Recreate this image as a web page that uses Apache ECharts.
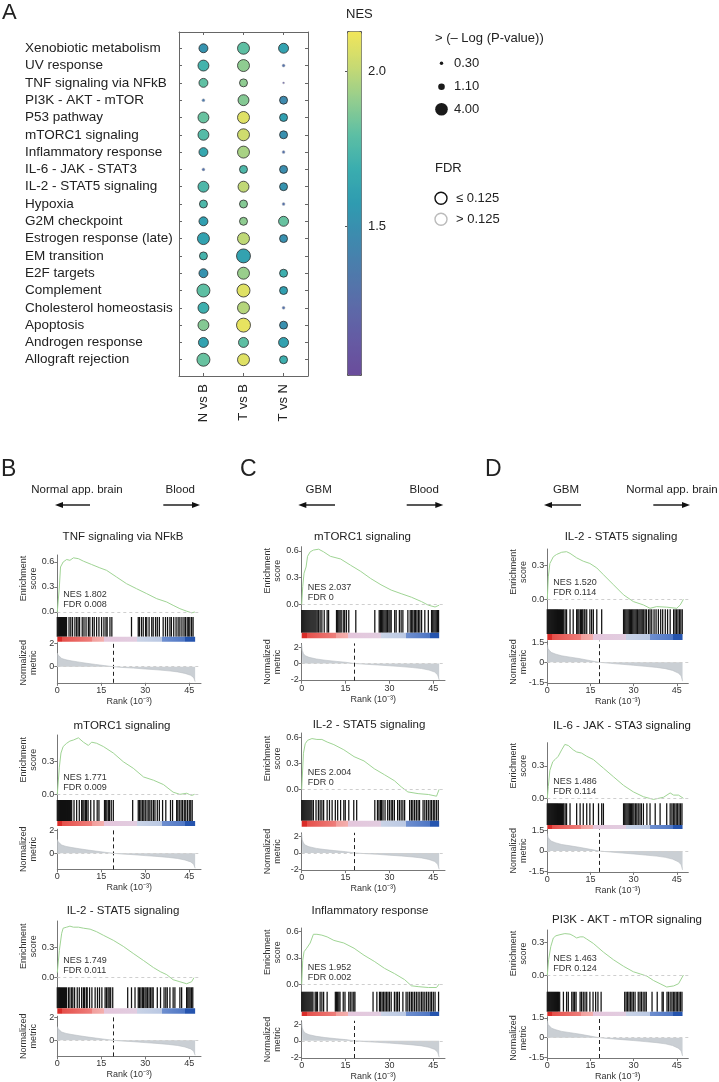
<!DOCTYPE html>
<html><head><meta charset="utf-8">
<script src="https://cdn.jsdelivr.net/npm/echarts@6/dist/echarts.min.js"></script>
<style>html,body{margin:0;padding:0;background:#fff}#c{width:719px;height:1082px}</style>
</head><body><div id="c"></div><script>
// ---------------- Panel A data ----------------
const pathways = ['Xenobiotic metabolism','UV response','TNF signaling via NFkB','PI3K - AKT - mTOR','P53 pathway','mTORC1 signaling','Inflammatory response','IL-6 - JAK - STAT3','IL-2 - STAT5 signaling','Hypoxia','G2M checkpoint','Estrogen response (late)','EM transition','E2F targets','Complement','Cholesterol homeostasis','Apoptosis','Androgen response','Allograft rejection'];
const comparisons = ['N vs B','T vs B','T vs N'];
const nesNvsB = [1.52,1.72,1.802,1.35,1.82,1.771,1.65,1.30,1.749,1.75,1.60,1.62,1.72,1.52,1.80,1.70,1.88,1.62,1.82];
const nesTvsB = [1.80,1.90,1.90,1.88,2.08,2.037,1.952,1.75,2.004,1.88,1.90,2.00,1.62,1.92,2.08,1.98,2.10,1.80,2.08];
const nesTvsN = [1.62,1.30,1.15,1.463,1.60,1.50,1.30,1.486,1.520,1.30,1.82,1.50,null,1.70,1.60,1.30,1.50,1.62,1.70];
const logpNvsB = [2.0,3.0,2.0,0.23,3.0,3.0,2.0,0.23,3.0,1.6,2.0,3.6,1.6,2.0,4.25,3.0,3.0,2.5,4.25];
const logpTvsB = [3.6,3.6,1.6,3.0,3.6,3.6,3.6,1.6,3.0,1.6,1.6,3.6,4.9,3.6,4.25,3.6,4.9,2.5,3.6];
const logpTvsN = [2.5,0.23,0.1,1.6,1.6,1.6,0.23,1.6,1.6,0.23,2.5,1.6,null,1.6,1.6,0.23,1.6,2.5,1.6];
const fdrOkNvsB = [1,1,1,0,1,1,1,0,1,1,1,1,1,1,1,1,1,1,1];
const fdrOkTvsB = [1,1,1,1,1,1,1,1,1,1,1,1,1,1,1,1,1,1,1];
const fdrOkTvsN = [1,0,0,1,1,1,0,1,1,0,1,1,0,1,1,0,1,1,1];
const nesRange = [1.02, 2.13];
const nesTicks = [1.5, 2.0];
const sizeLegend = [0.30, 1.10, 4.00];
const fdrLegend = ['≤ 0.125', '> 0.125'];

// ---------------- GSEA data (rank in thousands) ----------------
const rankLength = 47;
const esB1 = [[0,0],[0.7,0.30],[1.1,0.54],[2,0.60],[3.2,0.63],[4.3,0.62],[4.9,0.64],[5.5,0.65],[7.2,0.64],[8.9,0.61],[11.7,0.57],[14.5,0.53],[16.8,0.50],[20.2,0.42],[23.6,0.34],[27,0.28],[30.5,0.22],[33.9,0.16],[37.3,0.12],[39.5,0.08],[41.8,0.04],[44.1,0.01],[45.8,-0.01],[46.9,0.0]];
const esB2 = [[0,0],[0.7,0.25],[1.25,0.38],[2,0.44],[3.2,0.47],[4.3,0.49],[5.5,0.50],[7.2,0.52],[8.9,0.48],[10.6,0.45],[11.7,0.48],[13.4,0.47],[15.7,0.44],[19.1,0.38],[22.5,0.30],[25.9,0.24],[29.4,0.16],[32.8,0.13],[36.2,0.09],[39.5,0.02],[41.8,0.0],[44.1,0.01],[45.8,-0.01],[46.8,0]];
const esB3 = [[0,0.05],[0.7,0.27],[1.5,0.44],[2,0.49],[3.2,0.50],[4.3,0.51],[5.5,0.50],[7.2,0.50],[8.9,0.49],[11.2,0.48],[13.4,0.455],[15.7,0.42],[19.1,0.37],[22.5,0.31],[25.9,0.24],[29.4,0.17],[32.8,0.10],[35.1,0.06],[37.3,0.03],[39.5,-0.02],[41.8,-0.04],[44.1,-0.06],[45.8,-0.04],[46.6,0]];
const esC1 = [[0,0],[0.35,0.2],[0.8,0.35],[1.5,0.42],[2,0.54],[2.9,0.59],[4,0.61],[5.8,0.62],[7.5,0.59],[9.8,0.54],[13.3,0.51],[16.7,0.44],[20.2,0.37],[23.6,0.29],[27.1,0.22],[30.6,0.16],[34,0.12],[37.5,0.08],[41,0.03],[43.3,-0.01],[45.6,-0.03],[47.0,-0.01]];
const esC2 = [[0,0],[0.6,0.42],[1.2,0.53],[2,0.57],[3.5,0.59],[5.2,0.58],[6.9,0.58],[8.7,0.55],[11,0.52],[14.4,0.46],[17.9,0.38],[21.3,0.33],[24.8,0.24],[28.3,0.17],[31.7,0.10],[34,0.03],[36.3,-0.03],[39.8,-0.05],[43.3,-0.06],[46.1,-0.08],[47.0,0]];
const esC3 = [[0,0],[0.35,0.27],[0.8,0.37],[1.7,0.41],[2.9,0.47],[4,0.57],[5.2,0.57],[6.9,0.56],[8.7,0.54],[11,0.50],[14.4,0.47],[17.9,0.41],[21.3,0.33],[24.8,0.26],[28.3,0.18],[31.7,0.12],[35.2,0.05],[37.5,-0.02],[39.8,-0.03],[43.3,-0.04],[46.1,-0.04],[47.0,0]];
const esD1 = [[0,0],[0.35,0.2],[0.9,0.32],[2.1,0.38],[3.2,0.40],[5,0.42],[6.7,0.425],[7.9,0.41],[10.2,0.37],[12.5,0.34],[14.8,0.32],[17.2,0.28],[19.5,0.22],[23,0.13],[26.5,0.04],[29.9,-0.02],[33.4,-0.05],[35.7,-0.08],[38,-0.065],[41.5,-0.07],[45,-0.08],[46.2,-0.05],[47.3,0]];
const esD2 = [[0,0],[0.35,0.11],[0.9,0.26],[1.9,0.34],[2.7,0.36],[3.8,0.39],[5,0.45],[6.1,0.50],[7.3,0.49],[9,0.45],[10.2,0.43],[11.9,0.42],[13.7,0.39],[16,0.36],[19.5,0.28],[23,0.20],[26.5,0.12],[29.9,0.06],[33.4,0.015],[36.9,-0.01],[40.4,0.01],[42.7,0.05],[43.9,0.03],[45.6,0.03],[47.3,0]];
const esD3 = [[0,0],[0.46,0.14],[1.2,0.26],[2.1,0.34],[3,0.36],[4.4,0.37],[6.1,0.38],[7.9,0.375],[9,0.36],[10.2,0.34],[11.4,0.35],[12.5,0.35],[13.7,0.33],[16,0.29],[19.5,0.21],[23,0.14],[26.5,0.08],[29.9,0.03],[32.3,0.01],[34.6,-0.01],[36.9,-0.05],[39.2,-0.08],[41.5,-0.11],[43.9,-0.10],[45.6,-0.08],[47.3,0]];

const hitsB1 = [0,0.35,0.7,1.05,1.4,1.75,2.1,2.45,2.8,3.15,4.0,4.6,5.2,6.0,6.6,7.1,7.6,8.5,9.1,9.8,10.6,11.1,12.0,12.6,13.4,14.2,15.1,15.9,16.6,17.0,17.95,18.6,25.3,27.6,28.0,28.7,29.3,30.1,30.5,31.3,32.2,32.7,33.5,34.1,34.8,36.1,36.9,37.6,38.4,38.9,39.7,40.5,41.2,41.8,42.5,43.2,43.7,44.3,44.8,45.2,45.8,46.3];
const hitsB2 = [0,0.35,0.7,1.05,1.4,1.75,2.1,2.45,2.8,3.15,3.5,3.85,4.2,4.55,4.9,5.7,6.6,7.5,8.3,8.7,9.1,9.6,10.0,10.5,11.4,12.5,13.6,14.2,16.1,16.5,16.9,17.4,17.8,18.4,19.1,25.7,27.6,28.0,28.5,29.0,29.5,30.0,30.6,31.2,31.6,32.2,32.8,33.3,34.1,34.8,35.9,37.0,38.6,39.3,40.7,41.1,41.6,42.2,42.7,43.3,43.8,44.4,45.0,45.5,46.0];
const hitsB3 = [0,0.35,0.7,1.05,1.4,1.75,2.1,2.45,2.8,3.15,3.8,4.3,4.9,5.3,5.9,6.8,7.5,8.3,8.9,9.3,9.9,10.2,11.0,11.8,12.9,13.7,14.4,15.2,16.3,16.8,17.3,17.7,18.2,18.9,24.0,25.3,26.5,27.6,28.0,28.5,29.0,29.4,29.9,30.3,30.8,31.3,31.8,32.3,32.7,34.1,35.2,36.4,37.0,37.5,38.4,39.5,40.1,41.8,42.4,44.1,44.5,44.9,45.3,45.8,46.2];
const hitsC1 = [0,0.35,0.7,1.05,1.4,1.75,2.1,2.45,2.8,3.15,3.5,3.85,4.2,4.55,4.9,5.3,5.8,6.3,6.9,7.7,8.7,9.2,11.9,12.3,12.7,13.1,13.5,14.2,14.7,15.3,16.1,18.5,25.0,26.5,26.9,27.3,27.7,28.1,28.5,28.9,29.3,29.8,30.2,30.6,31.8,32.3,33.4,34.0,34.6,36.3,37.1,37.6,38.0,38.5,38.9,39.4,39.9,40.4,41.0,42.1,43.3,44.4,44.8,45.2,45.6,46.0,46.4,46.8];
const hitsC2 = [0,0.35,0.7,1.05,1.4,1.75,2.1,2.45,2.8,3.15,3.5,4.0,4.9,5.7,6.3,6.9,7.5,8.7,9.5,10.4,11.5,12.3,13.3,14.4,14.9,16.1,17.8,18.8,25.0,25.9,26.4,26.9,27.3,27.8,28.5,29.4,30.0,30.6,31.1,31.7,32.8,33.4,34.0,34.6,35.2,36.9,37.5,38.0,38.6,39.2,39.8,40.3,41.5,42.1,42.7,43.3,43.9,44.4,45.0,45.5,46.1,46.7];
const hitsC3 = [0,0.35,0.7,1.05,1.4,1.75,2.1,2.45,2.8,3.15,3.5,3.85,4.6,5.0,5.4,6.3,6.9,7.5,8.7,11.5,11.9,12.3,12.7,13.1,14.2,14.8,16.1,16.6,17.2,17.8,18.2,24.4,25.7,26.6,27.0,27.5,28.0,28.5,29.0,29.5,30.0,30.6,31.7,32.3,32.8,33.4,34.6,35.7,36.3,36.9,37.5,38.0,38.6,39.2,39.8,40.4,41.0,41.5,42.1,42.7,43.3,43.9,44.4,45.0,45.6,46.8];
const hitsD1 = [0,0.35,0.7,1.05,1.4,1.75,2.1,2.45,2.8,3.15,3.5,3.85,4.2,4.55,4.9,5.3,5.7,6.2,6.7,7.9,9.0,10.2,10.6,11.0,11.5,11.9,12.3,12.8,13.1,13.7,14.8,15.4,16.0,17.2,18.9,26.5,26.9,27.3,27.7,28.1,28.5,28.9,29.3,29.7,30.1,30.5,30.9,31.3,31.8,32.2,32.6,33.0,33.5,34.0,34.5,35.2,35.7,36.3,37.1,37.8,38.6,39.4,40.1,41.0,41.8,42.7,43.9,44.4,44.9,45.4,45.9,46.4,46.9];
const hitsD2 = [0,0.35,0.7,1.05,1.4,1.75,2.1,2.45,2.8,3.15,3.5,3.85,4.2,4.55,4.9,5.3,5.7,6.2,6.7,7.9,10.2,11.4,12.5,13.7,14.8,16.0,17.8,18.9,19.5,26.5,26.9,27.3,27.7,28.1,28.5,28.9,29.3,29.7,30.1,30.6,31.1,31.6,32.2,32.7,33.4,34.6,35.7,37.5,39.2,41.5,42.7,43.3,43.8,44.3,44.8,45.3,45.8,46.3,46.8];
const hitsD3 = [0,0.35,0.7,1.05,1.4,1.75,2.1,2.45,2.8,3.15,3.5,3.85,4.3,5.6,6.7,7.3,8.5,9.0,9.5,10.0,11.4,11.9,12.5,13.1,13.7,14.8,15.9,16.8,17.6,18.7,26.9,27.4,27.9,28.4,28.9,29.4,29.9,30.5,31.6,32.2,32.7,33.3,33.9,34.4,36.4,38.2,39.9,40.3,41.6,42.1,42.7,43.3,43.8,44.3,44.8,45.3,45.8,46.3,46.8];

const metricB = [[0,1.2],[0.3,1.0],[0.8,0.85],[1.5,0.72],[3,0.6],[5,0.5],[7.5,0.4],[10,0.3],[13,0.2],[16,0.1],[19.2,0],[22,-0.06],[26,-0.12],[30,-0.2],[34,-0.27],[38,-0.36],[41,-0.45],[43.5,-0.58],[45.5,-0.75],[46.5,-0.95],[47,-1.3]];
const metricC = [[0,2.3],[0.2,1.6],[0.6,1.2],[1.2,0.95],[2.5,0.75],[5,0.55],[8,0.4],[12,0.25],[15,0.15],[18,0],[22,-0.1],[26,-0.18],[30,-0.28],[34,-0.38],[38,-0.5],[41,-0.62],[43.5,-0.8],[45.5,-1.05],[46.5,-1.4],[47,-2.0]];
const metricD = [[0,1.3],[0.3,1.0],[0.8,0.85],[1.5,0.72],[3,0.6],[5,0.48],[8,0.38],[11,0.28],[15,0.12],[18,0],[22,-0.08],[26,-0.15],[30,-0.22],[34,-0.3],[38,-0.38],[41,-0.47],[43.5,-0.6],[45.5,-0.8],[46.5,-1.0],[47,-1.4]];
const zeroCross = [19.2, 18.0, 18.0];
const rankTicks = [0, 15, 30, 45];
const esTicks = [0, 0.3, 0.6];
const metricTicks = [[0, 2], [-2, 0, 2], [-1.5, 0, 1.5]];
const metricRange = [[-1.4, 2.1], [-2.1, 2.45], [-1.55, 1.6]];

const titles = ['TNF signaling via NFkB','mTORC1 signaling','IL-2 - STAT5 signaling','mTORC1 signaling','IL-2 - STAT5 signaling','Inflammatory response','IL-2 - STAT5 signaling','IL-6 - JAK - STA3 signaling','PI3K - AKT - mTOR signaling'];
const nesLabels = ['1.802','1.771','1.749','2.037','2.004','1.952','1.520','1.486','1.463'];
const fdrLabels = ['0.008','0.009','0.011','0','0','0.002','0.114','0.114','0.124'];
const directionLeft = ['Normal app. brain','GBM','GBM'];
const directionRight = ['Blood','Blood','Normal app. brain'];
const panelLetters = ['B','C','D'];

const esData = [esB1, esB2, esB3, esC1, esC2, esC3, esD1, esD2, esD3];
const hitsData = [hitsB1, hitsB2, hitsB3, hitsC1, hitsC2, hitsC3, hitsD1, hitsD2, hitsD3];
const metricData = [metricB, metricC, metricD];

// ---------------- layout (pixels) ----------------
const FONT = '"Liberation Sans", Arial, Helvetica, sans-serif';
const TXT = '#222';
const AX = '#777';
const colX = [57.3, 301.7, 547.3];
const colW = [143.7, 143.3, 141];
const rankMax = 49;
const layout = [
 {tx:123, ty:537, esTop:555, hitsTop:617, hitsBot:636.7, cbBot:641.7, esMin:-0.06, esMax:0.684, mTop:642.6, mBot:682.8},
 {tx:122, ty:725.7, esTop:735, hitsTop:800, hitsBot:821, cbBot:826, esMin:-0.052, esMax:0.546, mTop:829.2, mBot:869.4},
 {tx:123, ty:911, esTop:921, hitsTop:987.3, hitsBot:1008.3, cbBot:1013.7, esMin:-0.095, esMax:0.561, mTop:1016.2, mBot:1056.4},
 {tx:362.5, ty:537, esTop:546.7, hitsTop:610, hitsBot:632.7, cbBot:638.3, esMin:-0.064, esMax:0.648, mTop:643.4, mBot:680.7},
 {tx:369, ty:725, esTop:733, hitsTop:800, hitsBot:820.7, cbBot:826.7, esMin:-0.124, esMax:0.655, mTop:832.8, mBot:870.1},
 {tx:370, ty:911, esTop:928, hitsTop:991.7, hitsBot:1011.7, cbBot:1016, esMin:-0.088, esMax:0.642, mTop:1020.8, mBot:1058.1},
 {tx:621, ty:537.3, esTop:549, hitsTop:609.3, hitsBot:634, cbBot:640, esMin:-0.089, esMax:0.449, mTop:640.7, mBot:683.2},
 {tx:622, ty:725.7, esTop:742.7, hitsTop:803.3, hitsBot:825, cbBot:829, esMin:-0.046, esMax:0.516, mTop:829.4, mBot:871.9},
 {tx:627, ty:920, esTop:930, hitsTop:991.7, hitsBot:1011.7, cbBot:1016, esMin:-0.153, esMax:0.413, mTop:1016.7, mBot:1059.2}
];
const nesColors = ['#6a4c9b','#655aa3','#5c6aa8','#4e7aab','#3e8aae','#2f9bb0','#3aadaf','#5dbfa4','#93cd8f','#c8da72','#f2e65a'];
const cbStops = [
 {offset:0,color:'#d92c28'},{offset:0.035,color:'#d92c28'},{offset:0.035,color:'#e54f4a'},{offset:0.25,color:'#ee7f7c'},
 {offset:0.25,color:'#f19e9c'},{offset:0.34,color:'#f4b0ae'},{offset:0.34,color:'#e4c6dc'},{offset:0.58,color:'#e2cde0'},
 {offset:0.58,color:'#c9d3e6'},{offset:0.76,color:'#bac8e3'},{offset:0.76,color:'#6f8fcf'},{offset:0.93,color:'#4e76c4'},
 {offset:0.93,color:'#2554ae'},{offset:1,color:'#2554ae'}
];
function dotSize(v){ return 6.3 * Math.sqrt(v); }

const grids = [], xAxes = [], yAxes = [], series = [], graphic = [];
function txt(x, y, text, size, opt){
  graphic.push(Object.assign({type:'text', x:x, y:y, silent:true, style:Object.assign({text:text, fontSize:size, fontFamily:FONT, fill:TXT, align:'left', verticalAlign:'middle'}, (opt&&opt.style)||{})}, opt&&opt.rotation!==undefined?{rotation:opt.rotation}:{}));
}

// ---------------- Panel A ----------------
grids.push({left:179, top:32, width:129, height:344});
const rowIdx = pathways.map((_, i) => i);
const colIdx = comparisons.map((_, i) => i);
const boxLine = {show:true, onZero:false, lineStyle:{color:'#666', width:1}};
xAxes.push({gridIndex:0, type:'value', min:-0.61, max:2.61, position:'bottom', axisLine:boxLine,
  axisTick:{show:true, inside:true, length:3, customValues:colIdx, lineStyle:{color:'#666'}},
  axisLabel:{customValues:colIdx, rotate:90, margin:8, fontSize:13, fontFamily:FONT, color:TXT, formatter:v=>comparisons[v]},
  splitLine:{show:false}});
xAxes.push({gridIndex:0, type:'value', min:-0.61, max:2.61, position:'top', axisLine:boxLine,
  axisTick:{show:true, inside:true, length:3, customValues:colIdx, lineStyle:{color:'#666'}}, axisLabel:{show:false}, splitLine:{show:false}});
yAxes.push({gridIndex:0, type:'value', min:-0.94, max:18.94, inverse:true, position:'left', axisLine:boxLine,
  axisTick:{show:true, inside:true, length:3, customValues:rowIdx, lineStyle:{color:'#666'}},
  axisLabel:{customValues:rowIdx, align:'left', margin:154, fontSize:13.5, fontFamily:FONT, color:TXT, formatter:v=>pathways[v]},
  splitLine:{show:false}});
yAxes.push({gridIndex:0, type:'value', min:-0.94, max:18.94, inverse:true, position:'right', axisLine:boxLine,
  axisTick:{show:true, inside:true, length:3, customValues:rowIdx, lineStyle:{color:'#666'}}, axisLabel:{show:false}, splitLine:{show:false}});

const sigDots = [], nsDots = [];
[[nesNvsB, logpNvsB, fdrOkNvsB],[nesTvsB, logpTvsB, fdrOkTvsB],[nesTvsN, logpTvsN, fdrOkTvsN]].forEach((arr, ci) => {
  arr[0].forEach((n, ri) => {
    if (n == null) return;
    const item = [ci, ri, n, arr[1][ri]];
    (arr[2][ri] ? sigDots : nsDots).push(item);
  });
});
series.push({type:'scatter', xAxisIndex:0, yAxisIndex:0, data:sigDots, symbolSize:v=>dotSize(v[3]), itemStyle:{borderColor:'#2a2a2a', borderWidth:0.8, opacity:1}, silent:true, z:5});
series.push({type:'scatter', xAxisIndex:0, yAxisIndex:0, data:nsDots, symbolSize:v=>dotSize(v[3]), itemStyle:{borderColor:'#bdbdbd', borderWidth:0.5, opacity:1}, silent:true, z:5});

// colour bar axis
grids.push({left:347, top:31, width:14, height:344});
xAxes.push({gridIndex:1, type:'value', show:false, min:0, max:1});
yAxes.push({gridIndex:1, type:'value', min:nesRange[0], max:nesRange[1], position:'right',
  axisLine:{show:false}, axisTick:{show:true, inside:true, length:2, customValues:nesTicks, lineStyle:{color:'#555'}},
  axisLabel:{customValues:nesTicks, margin:7, fontSize:13, fontFamily:FONT, color:TXT, formatter:v=>v.toFixed(1)}, splitLine:{show:false}});
yAxes.push({gridIndex:1, type:'value', min:nesRange[0], max:nesRange[1], position:'left',
  axisLine:{show:false}, axisTick:{show:true, inside:true, length:2, customValues:nesTicks, lineStyle:{color:'#555'}},
  axisLabel:{show:false}, splitLine:{show:false}});

txt(346, 14, 'NES', 13);
txt(435, 38, '> (– Log (P-value))', 13);
const legY = [63.3, 86.7, 109.3];
sizeLegend.forEach((v, i) => {
  graphic.push({type:'circle', silent:true, shape:{cx:441.5, cy:legY[i], r:dotSize(v)/2}, style:{fill:'#1a1a1a'}});
  txt(454, legY[i], v.toFixed(2), 13);
});
txt(435, 168, 'FDR', 13);
const fdrY = [198.3, 219.3];
fdrLegend.forEach((t, i) => {
  graphic.push({type:'circle', silent:true, shape:{cx:441, cy:fdrY[i], r:6}, style:{fill:'none', stroke:i===0?'#111':'#bbb', lineWidth:1.4}});
  txt(456, fdrY[i], t, 13);
});
txt(2, 13, 'A', 22, {style:{fontWeight:'lighter'}});

// ---------------- GSEA panels ----------------
const lettersX = [1, 240, 485];
[0,1,2].forEach(c => {
  txt(lettersX[c], 470, panelLetters[c], 23, {style:{fontWeight:'lighter'}});
});
const dirY = 490, arrY = 505;
const dirLeftX = [77, 318.7, 566], dirRightX = [180.3, 424.2, 672];
const arrLeft = [[90,55],[335,298.3],[581,544]];
const arrRight = [[163.3,200],[406.7,443.3],[653.3,690]];
[0,1,2].forEach(c => {
  txt(dirLeftX[c], dirY, directionLeft[c], 11.5, {style:{align:'center'}});
  txt(dirRightX[c], dirY, directionRight[c], 11.5, {style:{align:'center'}});
  const [a1, a2] = arrLeft[c];
  graphic.push({type:'line', silent:true, shape:{x1:a1, y1:arrY, x2:a2+6, y2:arrY}, style:{stroke:'#111', lineWidth:1.4}});
  graphic.push({type:'polygon', silent:true, shape:{points:[[a2, arrY],[a2+8, arrY-3],[a2+8, arrY+3]]}, style:{fill:'#111'}});
  const [b1, b2] = arrRight[c];
  graphic.push({type:'line', silent:true, shape:{x1:b1, y1:arrY, x2:b2-6, y2:arrY}, style:{stroke:'#111', lineWidth:1.4}});
  graphic.push({type:'polygon', silent:true, shape:{points:[[b2, arrY],[b2-8, arrY-3],[b2-8, arrY+3]]}, style:{fill:'#111'}});
});

const smallAxisLine = {show:true, onZero:false, lineStyle:{color:AX, width:1}};
titles.forEach((title, i) => {
  const L = layout[i];
  const c = Math.floor(i / 3);
  const x0 = colX[c], w = colW[c];
  // ES plot
  const gE = grids.length;
  grids.push({left:x0, top:L.esTop, width:w, height:L.hitsTop - L.esTop});
  const xE = xAxes.length;
  xAxes.push({gridIndex:gE, type:'value', min:0, max:rankMax, show:false});
  const yE = yAxes.length;
  const esT = esTicks.filter(t => t <= L.esMax);
  yAxes.push({gridIndex:gE, type:'value', min:L.esMin, max:L.esMax, axisLine:smallAxisLine,
    axisTick:{show:true, length:3, customValues:esT, lineStyle:{color:AX}},
    axisLabel:{customValues:esT, margin:3, fontSize:9, fontFamily:FONT, color:'#333', formatter:v=>v.toFixed(1)},
    splitLine:{show:false}});
  series.push({type:'line', xAxisIndex:xE, yAxisIndex:yE, data:esData[i], showSymbol:false, silent:true,
    lineStyle:{color:'#9fd494', width:1},
    markLine:{silent:true, symbol:'none', label:{show:false}, lineStyle:{color:'#cfcfcf', type:[3,3], width:1}, data:[{yAxis:0}]}});
  // hits + ranked-list colour bar
  const gH = grids.length;
  grids.push({left:x0, top:L.hitsTop, width:w, height:L.cbBot - L.hitsTop});
  const xH = xAxes.length;
  xAxes.push({gridIndex:gH, type:'value', min:0, max:rankMax, show:false});
  const yH = yAxes.length;
  yAxes.push({gridIndex:gH, type:'value', min:0, max:1, show:false});
  const hitH = L.hitsBot - L.hitsTop;
  series.push({type:'custom', xAxisIndex:xH, yAxisIndex:yH, silent:true, data:hitsData[i].map(r => [r, 0]), encode:{x:0, y:1},
    renderItem:(params, api) => {
      const cs = params.coordSys; const x = api.coord([api.value(0), 0])[0];
      return {type:'line', shape:{x1:x, y1:cs.y, x2:x, y2:cs.y + hitH}, style:{stroke:'#111', lineWidth:1.25}};
    }});
  series.push({type:'custom', xAxisIndex:xH, yAxisIndex:yH, silent:true, data:[[0, rankLength]], encode:{x:[0,1]},
    renderItem:(params, api) => {
      const cs = params.coordSys;
      const xa = api.coord([api.value(0), 0])[0], xb = api.coord([api.value(1), 0])[0];
      return {type:'rect', shape:{x:xa, y:cs.y + hitH, width:xb - xa, height:cs.height - hitH},
        style:{fill:new echarts.graphic.LinearGradient(0, 0, 1, 0, cbStops)}};
    }});
  // metric plot
  const gM = grids.length;
  grids.push({left:x0, top:L.mTop, width:w, height:L.mBot - L.mTop});
  const xM = xAxes.length;
  xAxes.push({gridIndex:gM, type:'value', min:0, max:rankMax, axisLine:smallAxisLine,
    axisTick:{show:true, length:3, customValues:rankTicks, lineStyle:{color:AX}},
    axisLabel:{customValues:rankTicks, margin:3, fontSize:9, fontFamily:FONT, color:'#333'},
    name:'Rank (10⁻³)', nameLocation:'middle', nameGap:14, nameTextStyle:{fontSize:9, fontFamily:FONT, color:'#333'},
    splitLine:{show:false}});
  const yM = yAxes.length;
  yAxes.push({gridIndex:gM, type:'value', min:metricRange[c][0], max:metricRange[c][1], axisLine:smallAxisLine,
    axisTick:{show:true, length:3, customValues:metricTicks[c], lineStyle:{color:AX}},
    axisLabel:{customValues:metricTicks[c], margin:3, fontSize:9, fontFamily:FONT, color:'#333', formatter:v=>String(v)},
    splitLine:{show:false}});
  series.push({type:'line', xAxisIndex:xM, yAxisIndex:yM, data:metricData[c], showSymbol:false, silent:true,
    lineStyle:{color:'#b9bec3', width:0.6}, areaStyle:{color:'#cacfd4', opacity:1},
    markLine:{silent:true, symbol:'none', label:{show:false},
      data:[{xAxis:zeroCross[c], lineStyle:{color:'#222', type:[4,3], width:1}}, {yAxis:0, lineStyle:{color:'#cfcfcf', type:[3,3], width:1}}]}});
  // texts
  txt(L.tx, L.ty, title, 11.5, {style:{align:'center'}});
  const y0 = L.esTop + (L.esMax / (L.esMax - L.esMin)) * (L.hitsTop - L.esTop);
  txt(x0 + 6, y0 - 17, 'NES ' + nesLabels[i], 9, {style:{fill:'#333'}});
  txt(x0 + 6, y0 - 7, 'FDR ' + fdrLabels[i], 9, {style:{fill:'#333'}});
  txt(x0 - 29, L.esTop + 0.38 * (L.hitsTop - L.esTop), 'Enrichment\nscore', 9, {rotation:Math.PI/2, style:{align:'center', fill:'#333', lineHeight:10}});
  txt(x0 - 29, (L.mTop + L.mBot) / 2, 'Normalized\nmetric', 9, {rotation:Math.PI/2, style:{align:'center', fill:'#333', lineHeight:10}});
});

const chart = echarts.init(document.getElementById('c'), null, {renderer:'canvas', width:719, height:1082});
chart.setOption({
  animation:false,
  backgroundColor:'#fff',
  textStyle:{fontFamily:FONT},
  grid:grids, xAxis:xAxes, yAxis:yAxes, series:series, graphic:graphic,
  visualMap:{type:'continuous', min:nesRange[0], max:nesRange[1], dimension:2, seriesIndex:[0,1],
    left:347, top:31, itemWidth:14, itemHeight:344, calculable:false, hoverLink:false, padding:0,
    borderColor:'#555', borderWidth:1, text:null, inRange:{color:nesColors}}
});
</script></body></html>
